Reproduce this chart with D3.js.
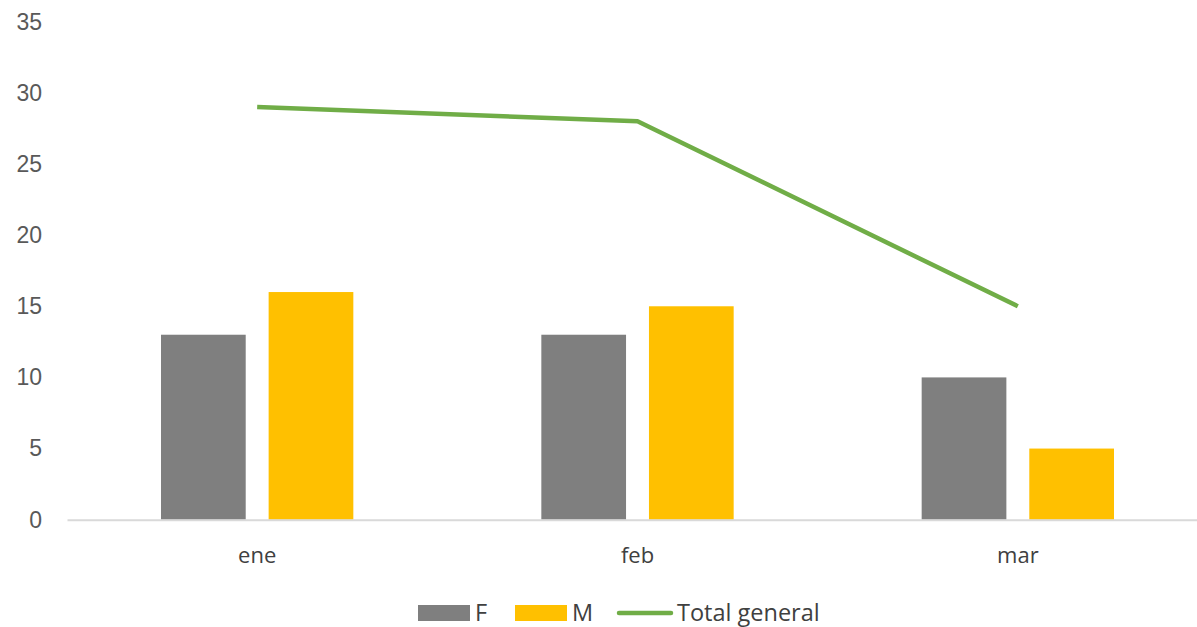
<!DOCTYPE html>
<html><head><meta charset="utf-8">
<script src="https://cdn.jsdelivr.net/npm/d3@7"></script>
<style>body{margin:0;background:#fff}svg{display:block}</style>
</head><body>
<svg id="c" width="1197" height="627"></svg>
<script>
const categories = ["ene", "feb", "mar"];
const seriesF = [13, 13, 10];
const seriesM = [16, 15, 5];
const seriesTotal = [29, 28, 15];
const yTicks = [0, 5, 10, 15, 20, 25, 30, 35];
const seriesNames = ["F", "M", "Total general"];

const svg = d3.select("#c");
const x = d3.scaleBand().domain(categories).range([67, 1208]);
const y = d3.scaleLinear().domain([0, 35]).range([519.7, 21.7]);
const inner = d3.scaleBand().domain(["F", "M"]).range([94, x.bandwidth() - 94]).paddingInner(0.213);

// y axis labels
const yAxis = d3.axisLeft(y).tickValues(yTicks).tickSize(0).tickPadding(0);
const yg = svg.append("g").attr("transform", "translate(42,0)").call(yAxis);
yg.select(".domain").remove();
yg.selectAll("text").attr("font-family", "Liberation Sans, Arial, sans-serif").attr("font-size", 23).attr("fill", "#595959");

// bars
const data = categories.map((c, i) => ({c, F: seriesF[i], M: seriesM[i]}));
const colors = {F: "#7f7f7f", M: "#ffc000"};
["F", "M"].forEach(k => {
  svg.append("g").selectAll("rect").data(data).join("rect")
    .attr("x", d => x(d.c) + inner(k))
    .attr("width", inner.bandwidth())
    .attr("y", d => y(d[k]))
    .attr("height", d => y(0) - y(d[k]))
    .attr("fill", colors[k]);
});

// x axis
const xAxis = d3.axisBottom(x).tickSize(0).tickPadding(28);
const xg = svg.append("g").attr("transform", `translate(0,${y(0)})`).call(xAxis);
xg.select(".domain").attr("stroke", "#d9d9d9").attr("stroke-width", 2);
xg.selectAll("text").attr("font-family", "'Comic Sans MS', 'Open Sans', sans-serif").attr("font-size", 22).attr("fill", "#404040");

// line
const line = d3.line().x((d, i) => x(categories[i]) + x.bandwidth() / 2).y(d => y(d));
svg.append("path").datum(seriesTotal).attr("d", line).attr("fill", "none")
  .attr("stroke", "#70ad47").attr("stroke-width", 4.5).attr("stroke-linejoin", "round");

// legend
const lg = svg.append("g").attr("font-family", "'Comic Sans MS', 'Open Sans', sans-serif").attr("font-size", 23.5).attr("fill", "#404040");
lg.append("rect").attr("x", 418).attr("y", 605).attr("width", 52).attr("height", 16).attr("fill", colors.F);
lg.append("text").attr("x", 475).attr("y", 621).text(seriesNames[0]);
lg.append("rect").attr("x", 515).attr("y", 605).attr("width", 52).attr("height", 16).attr("fill", colors.M);
lg.append("text").attr("x", 572).attr("y", 621).text(seriesNames[1]);
lg.append("line").attr("x1", 619).attr("x2", 671).attr("y1", 613).attr("y2", 613).attr("stroke", "#70ad47").attr("stroke-width", 4.5).attr("stroke-linecap", "round");
lg.append("text").attr("x", 677).attr("y", 621).text(seriesNames[2]);
</script>
</body></html>
